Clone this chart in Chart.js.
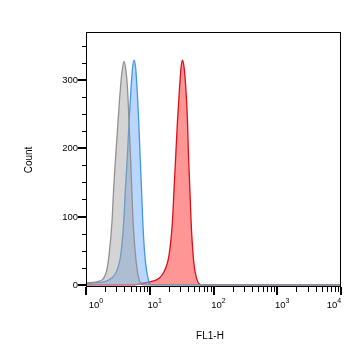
<!DOCTYPE html>
<html>
<head>
<meta charset="utf-8">
<script src="https://cdn.jsdelivr.net/npm/chart.js@4"></script>
<style>
  html, body { margin: 0; padding: 0; background: #fff; }
  #wrap { width: 362px; height: 359px; }
</style>
</head>
<body>
<div id="wrap"><canvas id="histChart" width="362" height="359"></canvas></div>
<script>
// FL1-H histogram
const grayX = [1.0, 1.53, 2.09, 2.30, 2.56, 2.72, 2.93, 3.18, 3.47, 3.72, 3.95, 4.2, 4.47, 4.73, 4.98, 5.22, 5.47, 5.97, 6.41, 7.22, 8.0, 10000];
const grayY = [3, 5, 19.5, 44, 93, 142, 190, 239, 288, 316, 327, 316, 288, 239, 190, 142, 93, 44, 19.5, 2, 0, 0];

const blueX = [1.0, 1.32, 1.97, 2.50, 3.00, 3.51, 3.91, 4.16, 4.47, 4.73, 5.09, 5.38, 5.67, 6.0, 6.32, 6.72, 7.05, 7.41, 7.77, 8.35, 8.97, 10.1, 11, 10000];
const blueY = [2, 3, 4.8, 9.8, 19.5, 44, 93, 142, 190, 239, 288, 318, 329, 318, 288, 239, 190, 142, 93, 44, 19.5, 1, 0, 0];

const redX = [1.0, 5.16, 7.22, 10.4, 14.0, 16.8, 20.1, 22.7, 24.1, 25.6, 27.2, 29.3, 31.0, 32.6, 34.6, 36.8, 39.1, 40.5, 42.5, 44.5, 47.9, 51.4, 63.2, 10000];
const redY = [0, 0, 2, 5, 9.8, 19.5, 44, 93, 142, 190, 239, 288, 318, 329, 318, 288, 239, 190, 142, 93, 44, 19.5, 0, 0];

const yTicks = [0, 100, 200, 300];
const xDecades = [1, 10, 100, 1000, 10000];
const xExponents = ['0', '1', '2', '3', '4'];

function toPoints(xs, ys) {
  return xs.map((x, i) => ({ x: x, y: ys[i] }));
}

// axes, ticks, labels, box
const frame = {
  id: 'frame',
  afterDraw(chart) {
    const ctx = chart.ctx;
    const area = chart.chartArea;
    const xs = chart.scales.x;
    const ys = chart.scales.y;
    ctx.save();
    ctx.strokeStyle = '#000';
    ctx.fillStyle = '#000';

    // box
    ctx.lineWidth = 1;
    ctx.strokeRect(Math.round(area.left) + 0.5, Math.round(area.top) + 0.5,
      Math.round(area.right - area.left) - 1, Math.round(area.bottom - area.top) - 1);

    // y ticks every 25, major every 100
    for (let v = 0; v <= 350; v += 25) {
      const py = Math.round(ys.getPixelForValue(v));
      const major = v % 100 === 0;
      ctx.lineWidth = major ? 2 : 1;
      ctx.beginPath();
      ctx.moveTo(area.left, py + (major ? 0 : 0.5));
      ctx.lineTo(area.left - (major ? 8 : 4), py + (major ? 0 : 0.5));
      ctx.stroke();
    }
    ctx.font = '9.5px "Liberation Sans", Arial, sans-serif';
    ctx.textAlign = 'right';
    ctx.textBaseline = 'middle';
    yTicks.forEach(v => {
      ctx.fillText(String(v), area.left - 8, ys.getPixelForValue(v) + 0.5);
    });

    // x ticks: decades + 2..9
    for (let d = 0; d < xDecades.length; d++) {
      const base = xDecades[d];
      const px = Math.round(xs.getPixelForValue(base));
      ctx.lineWidth = 2;
      ctx.beginPath();
      ctx.moveTo(px, area.bottom);
      ctx.lineTo(px, area.bottom + 8);
      ctx.stroke();
      if (d === xDecades.length - 1) break;
      ctx.lineWidth = 1;
      for (let m = 2; m <= 9; m++) {
        const mx = Math.round(xs.getPixelForValue(base * m)) + 0.5;
        ctx.beginPath();
        ctx.moveTo(mx, area.bottom);
        ctx.lineTo(mx, area.bottom + 5);
        ctx.stroke();
      }
    }

    // x labels 10^n
    xDecades.forEach((v, i) => {
      const px = xs.getPixelForValue(v);
      ctx.font = '9.5px "Liberation Sans", Arial, sans-serif';
      const wBase = ctx.measureText('10').width;
      ctx.font = '7px "Liberation Sans", Arial, sans-serif';
      const wExp = ctx.measureText(xExponents[i]).width;
      const w = wBase + wExp;
      let cx = Math.min(Math.max(px + 5, area.left + 10), area.right - 7);
      const x0 = cx - w / 2;
      ctx.textAlign = 'left';
      ctx.textBaseline = 'alphabetic';
      ctx.font = '9.5px "Liberation Sans", Arial, sans-serif';
      ctx.fillText('10', x0, area.bottom + 21);
      ctx.font = '7px "Liberation Sans", Arial, sans-serif';
      ctx.fillText(xExponents[i], x0 + wBase, area.bottom + 16);
    });

    // axis titles
    ctx.font = '10px "Liberation Sans", Arial, sans-serif';
    ctx.textAlign = 'center';
    ctx.textBaseline = 'middle';
    ctx.fillText('FL1-H', 210, 336);
    ctx.save();
    ctx.translate(29, 160);
    ctx.rotate(-Math.PI / 2);
    ctx.font = '10px "Liberation Sans", Arial, sans-serif';
    ctx.fillText('Count', 0, 0);
    ctx.restore();

    ctx.restore();
  }
};

new Chart(document.getElementById('histChart'), {
  type: 'line',
  data: {
    datasets: [
      {
        label: 'Control',
        data: toPoints(grayX, grayY),
        borderColor: 'rgb(145,145,145)',
        backgroundColor: 'rgba(160,160,160,0.45)',
        borderWidth: 1.3,
        fill: 'origin',
        pointRadius: 0,
        cubicInterpolationMode: 'monotone'
      },
      {
        label: 'Sample 1',
        data: toPoints(blueX, blueY),
        borderColor: 'rgb(70,150,230)',
        backgroundColor: 'rgba(115,175,250,0.5)',
        borderWidth: 1.3,
        fill: 'origin',
        pointRadius: 0,
        cubicInterpolationMode: 'monotone'
      },
      {
        label: 'Sample 2',
        data: toPoints(redX, redY),
        borderColor: 'rgb(220,15,25)',
        backgroundColor: 'rgba(255,45,45,0.5)',
        borderWidth: 1.3,
        fill: 'origin',
        pointRadius: 0,
        cubicInterpolationMode: 'monotone'
      }
    ]
  },
  options: {
    responsive: false,
    animation: false,
    events: [],
    layout: { padding: { left: 86, right: 21, top: 32, bottom: 72 } },
    plugins: {
      legend: { display: false },
      tooltip: { enabled: false },
      filler: { propagate: false }
    },
    scales: {
      x: {
        type: 'logarithmic',
        min: 1,
        max: 10000,
        display: false
      },
      y: {
        type: 'linear',
        min: -3,
        max: 370,
        display: false
      }
    }
  },
  plugins: [frame]
});
</script>
</body>
</html>
